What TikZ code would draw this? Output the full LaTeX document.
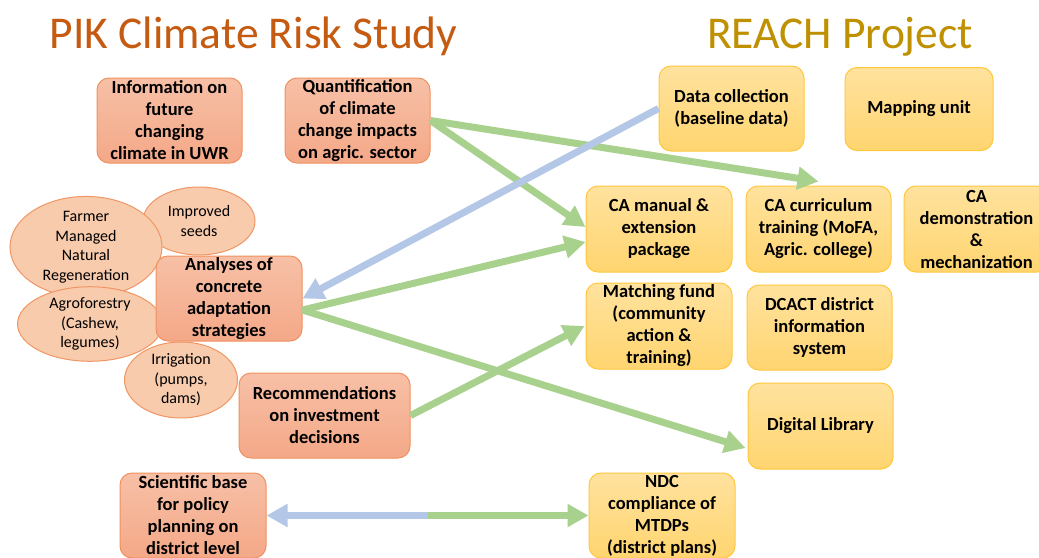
\documentclass[tikz,border=0pt]{standalone}
\usepackage{fontspec}
\setmainfont{Carlito}
\usetikzlibrary{arrows.meta,shapes.geometric,calc}
\definecolor{titleor}{HTML}{C55A11}
\definecolor{titlegd}{HTML}{BF9000}
\definecolor{orbord}{RGB}{241,145,95}
\definecolor{ortop}{RGB}{247,192,166}
\definecolor{orbot}{RGB}{244,168,136}
\definecolor{ylbord}{RGB}{255,200,60}
\definecolor{yltop}{RGB}{255,226,158}
\definecolor{ylbot}{RGB}{255,213,112}
\definecolor{elfill}{RGB}{248,203,173}
\definecolor{elbord}{RGB}{240,150,100}
\definecolor{arrgreen}{HTML}{A9D18E}
\definecolor{arrblue}{HTML}{B4C7E7}
\tikzset{
  boxtext/.style={font=\bfseries\fontsize{18.5}{22}\selectfont, align=center},
  orbox/.style={boxtext, draw=orbord, line width=1pt, rounded corners=12pt,
    top color=ortop, bottom color=orbot, inner sep=0pt,
    minimum width=145pt, minimum height=85pt},
  ylbox/.style={boxtext, draw=ylbord, line width=1pt, rounded corners=12pt,
    top color=yltop, bottom color=ylbot, inner sep=0pt,
    minimum width=145pt, minimum height=85pt},
  elnode/.style={ellipse, draw=elbord, line width=1pt, fill=elfill, inner sep=0pt,
    font=\fontsize{16}{19.5}\selectfont, align=center},
  garrow/.style={draw=arrgreen, line width=7pt, -{Triangle[length=21pt,width=22pt]}},
  barrow/.style={draw=arrblue, line width=7pt, -{Triangle[length=21pt,width=22pt]}},
  title/.style={font=\fontsize{45.5}{52}\selectfont, anchor=base}
}
\begin{document}
\begin{tikzpicture}[x=1pt,y=-1pt]
\useasboundingbox (0,0) rectangle (1039,557);
\clip (0,0) rectangle (1039,557);
\fill[white] (0,0) rectangle (1039,557);

% titles
\node[title, text=titleor] (t1) at (253.5,48) {PIK Climate Risk Study};
\node[title, text=titlegd] (t2) at (840,48) {REACH Project};

% ellipses
\node[elnode, minimum width=112pt, minimum height=68pt] (seeds) at (199,221) {Improved\\seeds};
\node[elnode, minimum width=152pt, minimum height=86pt] (fmnr) at (86,247) {Farmer\\Managed\\Natural\\Regeneration};
\node[elnode, minimum width=145pt, minimum height=68pt] (agro) at (90,324) {Agroforestry\\(Cashew,\\legumes)};
\node[elnode, minimum width=113pt, minimum height=76pt] (irrig) at (181,380) {Irrigation\\(pumps,\\dams)};

% orange boxes
\node[orbox] (info) at (169.5,120.5) {Information on\\future\\changing\\climate in UWR};
\node[orbox] (quant) at (357.5,120.5) {Quantification\\of climate\\change impacts\\on agric. sector};
\node[orbox, minimum width=146pt] (analyses) at (229,298.5) {Analyses of\\concrete\\adaptation\\strategies};
\node[orbox, minimum width=171pt] (recom) at (324.5,415.5) {Recommendations\\on investment\\decisions};
\node[orbox, minimum width=146pt] (sci) at (193,515.5) {Scientific base\\for policy\\planning on\\district level};

% yellow boxes
\node[ylbox] (data) at (731.5,108.5) {Data collection\\(baseline data)};
\node[ylbox, minimum width=148pt, minimum height=83pt] (mapping) at (919,109) {Mapping unit};
\node[ylbox, minimum width=146pt, minimum height=86pt] (camanual) at (659,229) {CA manual \&\\extension\\package};
\node[ylbox, minimum height=86pt] (cacurr) at (818.5,229) {CA curriculum\\training (MoFA,\\Agric. college)};
\node[ylbox, minimum height=86pt] (cademo) at (976.5,229) {CA\\demonstration\\\&\\mechanization};
\node[ylbox, minimum width=146pt, minimum height=86pt] (matching) at (659,326) {Matching fund\\(community\\action \&\\training)};
\node[ylbox] (dcact) at (819.5,327.5) {DCACT district\\information\\system};
\node[ylbox, minimum height=86pt] (diglib) at (820.5,426) {Digital Library};
\node[ylbox, minimum width=146pt] (ndc) at (662,515.5) {NDC\\compliance of\\MTDPs\\(district plans)};

% arrows
\draw[garrow] (quant.east) -- ([yshift=4pt]cacurr.north);
\draw[garrow] (quant.east) -- ([yshift=2pt]camanual.west);
\draw[garrow] ([yshift=-11.5pt]analyses.east) -- ([yshift=-13pt]camanual.west);
\draw[garrow] ([yshift=-11.5pt]analyses.east) -- ([yshift=-22pt,xshift=-2pt]diglib.west);
\draw[garrow] (recom.east) -- ([xshift=-1pt]matching.west);
\draw[barrow] (data.west) -- (analyses.east);

\coordinate (split) at (428,515.5);
\draw[barrow] (split) -- (sci.east);
\draw[garrow] (split) -- (ndc.west);
\end{tikzpicture}
\end{document}
